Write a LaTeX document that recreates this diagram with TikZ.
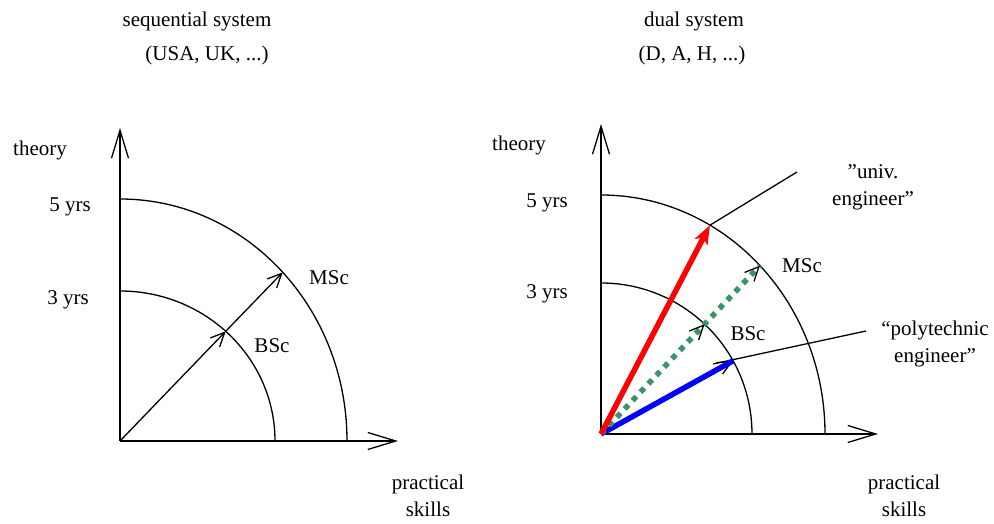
\documentclass[tikz,border=0pt]{standalone}
\usepackage{fontspec}
\setmainfont{Liberation Serif}
\usetikzlibrary{arrows.meta,decorations.markings}
\definecolor{dotgreen}{RGB}{56,150,100}
\begin{document}
\begin{tikzpicture}[x=1pt, y=1pt, line width=1.3pt,
    every node/.style={font=\fontsize{21}{27}\selectfont, align=center, inner sep=0pt, anchor=base},
    axis/.style={-{Straight Barb[length=28pt,width=17pt]}},
    head/.style={-{Straight Barb[length=14pt,width=13pt]}},
    barb/.style={decorate, decoration={markings,
      mark=at position #1 with {\arrow[black]{Straight Barb[length=14pt,width=13pt,line width=1.3pt]}}}}]
    \useasboundingbox (0,0) rectangle (994,524);
    % sequential system
    \coordinate (L0) at (120,83);
    \draw[axis] (L0) -- (120,396) coordinate (Ly);
    \draw[axis] (L0) -- (398,83) coordinate (Lx);
    \draw (L0) ++(0,150) arc[start angle=90, end angle=0, x radius=155, y radius=150];
    \draw (L0) ++(0,242) arc[start angle=90, end angle=0, x radius=227, y radius=242];
    \path (L0) ++(47:155 and 150) coordinate (Lb);
    \path (L0) ++(44.2:227 and 242) coordinate (Lm);
    \draw[head] (L0) -- (Lb);
    \draw[head] (Lb) -- (Lm);
    \node (ltitle) at (197,497) {sequential system};
    \node (lcountry) at (207,463) {(USA, UK, ...)};
    \node (ltheory) at (40,368) {theory};
    \node (lfive) at (70,312) {5 yrs};
    \node (lthree) at (68,219) {3 yrs};
    \node (lmsc) at (329,239) {MSc};
    \node (lbsc) at (272,171) {BSc};
    \node (lskills) at (428,7) {practical\\skills};
    % dual system
    \coordinate (R0) at (601,90);
    \draw[axis] (R0) -- (601,400) coordinate (Ry);
    \draw[axis] (R0) -- (878,90) coordinate (Rx);
    \draw (R0) ++(0,151) arc[start angle=90, end angle=0, radius=151];
    \draw (R0) ++(0,239) arc[start angle=90, end angle=0, x radius=224, y radius=239];
    \path (R0) ++(60.9:224 and 239) coordinate (Rr);
    \path (R0) ++(44.8:224 and 239) coordinate (Rm);
    \path (R0) ++(29:151) coordinate (Rb);
    \coordinate (Ue) at (797,352);
    \coordinate (Ps) at (713,160);
    \coordinate (Pe) at (866,193);
    \draw (Rr) -- (Ue);
    \draw (Ps) -- (Pe);
    \draw[blue, line width=5.5pt, preaction={barb=1}] (R0) -- (Rb);
    \draw[dotgreen, line width=5.5pt, dash pattern=on 5.5pt off 6pt,
      postaction={barb=0.652}, postaction={barb=1}] (R0) -- (Rm);
    \draw[red, line width=5.5pt, -{Stealth[length=19pt,width=14pt,inset=5pt]}] (R0) -- (Rr);
    \node (rtitle) at (694,497) {dual system};
    \node (rcountry) at (692,463) {(D, A, H, ...)};
    \node (rtheory) at (519,373) {theory};
    \node (rfive) at (547,316) {5 yrs};
    \node (rthree) at (547,225) {3 yrs};
    \node (rmsc) at (802,251) {MSc};
    \node (rbsc) at (748,183) {BSc};
    \node (runiv) at (873,318) {”univ.\\engineer”};
    \node (rpoly) at (935,161) {“polytechnic\\engineer”};
    \node (rskills) at (904,7) {practical\\skills};
\end{tikzpicture}
\end{document}
